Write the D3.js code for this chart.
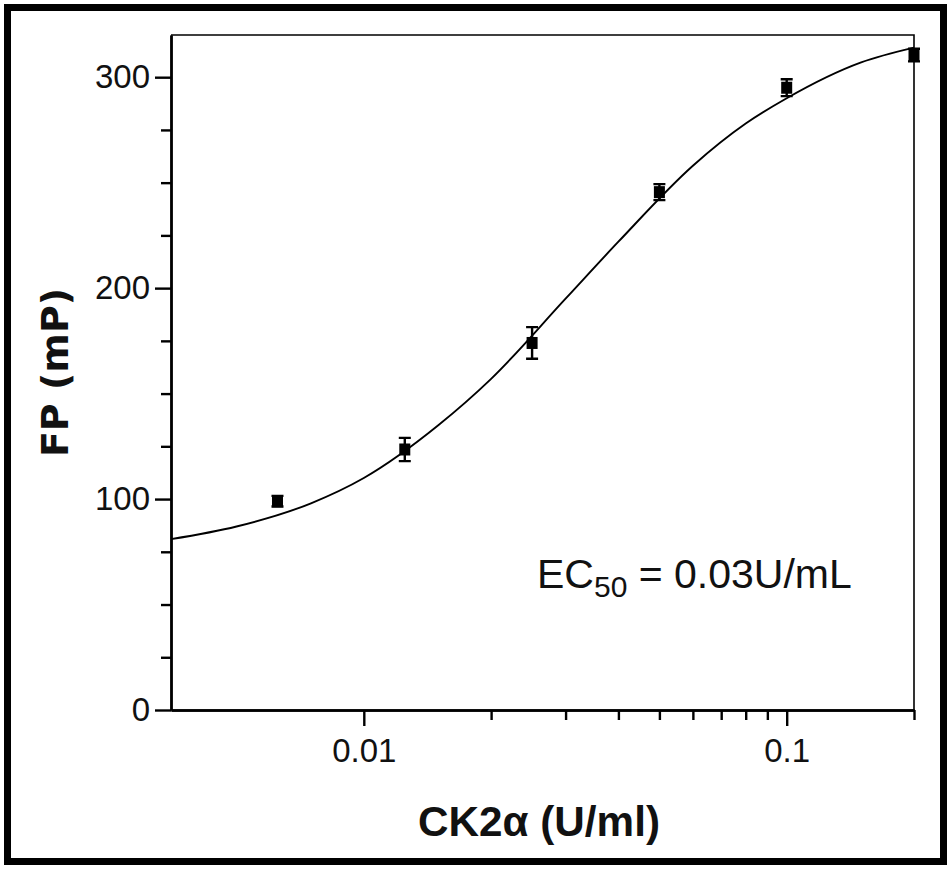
<!DOCTYPE html>
<html>
<head>
<meta charset="utf-8">
<script src="https://cdn.jsdelivr.net/npm/d3@7"></script>
<style>
  body { margin: 0; background: #fff; }
  svg { display: block; font-family: "Liberation Sans", Arial, sans-serif; }
</style>
</head>
<body>
<div id="display"></div>
<script>
// Measured points (CK2a units/ml vs FP in mP), with error bars
const conc = [0.00625, 0.0125, 0.025, 0.05, 0.1, 0.2];
const fp = [99, 123.5, 174, 245.5, 295, 310.5];
const fpErr = [2.5, 5.5, 7.5, 3.8, 4, 3];

// Fitted curve
const curveConc = [0.0035, 0.005, 0.0075, 0.01, 0.015, 0.02, 0.03, 0.04, 0.06, 0.08, 0.1, 0.15, 0.2];
const curveFp = [81, 87, 98, 110, 135, 157, 195, 222, 258, 278, 290, 307, 314];

// Axis ticks
const xMajorTicks = [0.01, 0.1];
const xMinorTicks = [0.02, 0.03, 0.04, 0.05, 0.06, 0.07, 0.08, 0.09, 0.2];
const yMajorTicks = [0, 100, 200, 300];
const yMinorTicks = [25, 50, 75, 125, 150, 175, 225, 250, 275];

const width = 951, height = 869;
const margin = { left: 171, right: 37, top: 35, bottom: 159 };

const svg = d3.select("div#display").append("svg")
    .attr("width", width).attr("height", height);

// Outer frame
svg.append("rect")
    .attr("x", 7.5).attr("y", 7.5)
    .attr("width", width - 15).attr("height", height - 15)
    .attr("fill", "none").attr("stroke", "#000").attr("stroke-width", 7);

const x = d3.scaleLog().domain([0.0035, 0.2]).range([margin.left, width - margin.right]);
const y = d3.scaleLinear().domain([0, 320]).range([height - margin.bottom, margin.top]);

// Top and right box lines
svg.append("path")
    .attr("d", `M${x.range()[0]},${y(320)}H${x.range()[1]}V${y(0)}`)
    .attr("fill", "none").attr("stroke", "#000").attr("stroke-width", 1.6);

// Y axis
const yMinor = svg.append("g").attr("transform", `translate(${x.range()[0]},0)`)
    .call(d3.axisLeft(y).tickValues(yMinorTicks).tickSize(10).tickSizeOuter(0).tickFormat(""));
const yAxis = svg.append("g").attr("transform", `translate(${x.range()[0]},0)`)
    .call(d3.axisLeft(y).tickValues(yMajorTicks).tickSize(16).tickSizeOuter(0).tickPadding(5).tickFormat(d3.format("d")));

// X axis
const xMinor = svg.append("g").attr("transform", `translate(0,${y(0)})`)
    .call(d3.axisBottom(x).tickValues(xMinorTicks).tickSize(10).tickSizeOuter(0).tickFormat(""));
const xAxis = svg.append("g").attr("transform", `translate(0,${y(0)})`)
    .call(d3.axisBottom(x).tickValues(xMajorTicks).tickSize(16).tickSizeOuter(0).tickPadding(13).tickFormat(d => String(d)));

[yMinor, yAxis, xMinor, xAxis].forEach(g => {
    g.selectAll("path.domain").attr("stroke-width", 2.4);
    g.selectAll(".tick line").attr("stroke-width", 2.4);
    g.selectAll("text").attr("font-size", 33).attr("fill", "#111")
        .attr("font-family", "'Liberation Sans', Arial, sans-serif");
});

// Fitted curve
const line = d3.line()
    .x((d, i) => x(curveConc[i]))
    .y(d => y(d))
    .curve(d3.curveMonotoneX);
svg.append("path").datum(curveFp)
    .attr("d", line)
    .attr("fill", "none").attr("stroke", "#000").attr("stroke-width", 1.9);

// Error bars
const pts = svg.append("g").selectAll("g").data(fp).enter().append("g");
pts.append("path")
    .attr("d", (d, i) => {
        const cx = x(conc[i]), y0 = y(d - fpErr[i]), y1 = y(d + fpErr[i]);
        return `M${cx},${y0}V${y1}M${cx - 6},${y0}H${cx + 6}M${cx - 6},${y1}H${cx + 6}`;
    })
    .attr("fill", "none").attr("stroke", "#000").attr("stroke-width", 2.4);

// Square markers
pts.append("rect")
    .attr("x", (d, i) => x(conc[i]) - 5.5)
    .attr("y", d => y(d) - 6)
    .attr("width", 11).attr("height", 12)
    .attr("fill", "#000");

// EC50 annotation
const ec = svg.append("text")
    .attr("x", 537).attr("y", 588)
    .attr("font-size", 41).attr("fill", "#111");
ec.append("tspan").text("EC");
ec.append("tspan").attr("font-size", 30).attr("dy", 9).text("50");
ec.append("tspan").attr("dy", -9).text(" = 0.03U/mL");

// Axis titles
svg.append("text")
    .attr("x", 539).attr("y", 836)
    .attr("text-anchor", "middle")
    .attr("font-size", 42).attr("font-weight", "bold").attr("fill", "#111")
    .attr("textLength", 242).attr("lengthAdjust", "spacingAndGlyphs")
    .text("CK2α (U/ml)");

svg.append("text")
    .attr("transform", `translate(68,${y(160)}) rotate(-90)`)
    .attr("text-anchor", "middle")
    .attr("font-family", "'DejaVu Sans', Verdana, sans-serif")
    .attr("font-size", 38).attr("font-weight", "bold").attr("fill", "#111")
    .text("FP (mP)");
</script>
</body>
</html>
